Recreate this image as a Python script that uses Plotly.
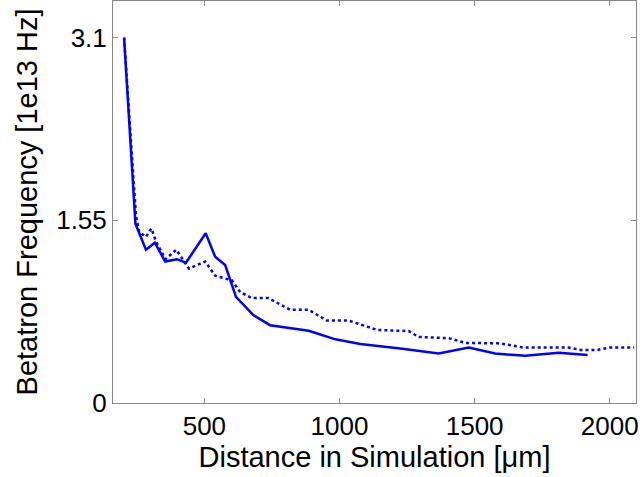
import plotly.graph_objects as go

solid_x = [203, 245, 284, 317, 355, 398, 432, 505, 540, 577, 617, 681, 743, 886, 985, 1077, 1225, 1367, 1478, 1576, 1687, 1811, 1918]
solid_y = [3.10, 1.52, 1.30, 1.36, 1.20, 1.22, 1.19, 1.44, 1.24, 1.17, 0.90, 0.746, 0.66, 0.613, 0.54, 0.50, 0.463, 0.42, 0.47, 0.42, 0.40, 0.426, 0.407]

dot_x = [203, 247, 259, 284, 304, 321, 356, 396, 443, 503, 540, 602, 633, 676, 737, 818, 886, 953, 1033, 1139, 1256, 1293, 1404, 1465, 1595, 1681, 1848, 1892, 1954, 1998, 2090]
dot_y = [3.10, 1.59, 1.45, 1.41, 1.48, 1.37, 1.22, 1.30, 1.14, 1.20, 1.08, 1.04, 0.94, 0.89, 0.89, 0.79, 0.79, 0.70, 0.70, 0.62, 0.61, 0.56, 0.55, 0.51, 0.506, 0.47, 0.47, 0.45, 0.45, 0.47, 0.47]

x_ticks = [500, 1000, 1500, 2000]
y_ticks = [0, 1.55, 3.1]
y_tick_labels = ["0", "1.55", "3.1"]

fig = go.Figure()
fig.add_trace(go.Scatter(x=dot_x, y=dot_y, mode="lines",
                         line=dict(color="#0000ff", width=2.5, dash="dot")))
fig.add_trace(go.Scatter(x=solid_x, y=solid_y, mode="lines",
                         line=dict(color="#0000ff", width=2.5)))

fam = "Liberation Sans, Arial, sans-serif"
tick_font = dict(family=fam, size=26, color="#000000")
title_font = dict(family=fam, size=29, color="#000000")
axis_common = dict(showgrid=False, zeroline=False, showline=True, linecolor="#888888",
                   linewidth=1, mirror="ticks", ticks="inside", ticklen=5,
                   tickcolor="#888888", tickfont=tick_font)

fig.update_layout(
    width=644, height=477,
    margin=dict(l=113, r=8, t=1, b=74),
    paper_bgcolor="white", plot_bgcolor="white",
    showlegend=False,
    font=tick_font,
    xaxis=dict(range=[162, 2097], tickvals=x_ticks,
               title=dict(text="Distance in Simulation [μm]", font=title_font, standoff=0),
               **axis_common),
    yaxis=dict(range=[0, 3.41], tickvals=y_ticks, ticktext=y_tick_labels,
               title=dict(text="Betatron Frequency [1e13 Hz]", font=title_font, standoff=10),
               **axis_common),
)

fig.write_html("out.html")
